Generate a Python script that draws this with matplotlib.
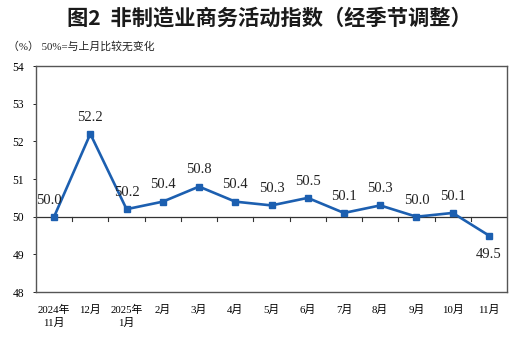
import matplotlib
matplotlib.use("Agg")
import matplotlib.pyplot as plt

plt.rcParams['font.family'] = ['Liberation Serif', 'Noto Sans CJK SC']

months = ['2024年\n11月', '12月', '2025年\n1月', '2月', '3月', '4月', '5月',
          '6月', '7月', '8月', '9月', '10月', '11月']
values = [50.0, 52.2, 50.2, 50.4, 50.8, 50.4, 50.3, 50.5, 50.1, 50.3, 50.0, 50.1, 49.5]
y_ticks = [48, 49, 50, 51, 52, 53, 54]

line_color = '#1c5fb0'

fig = plt.figure(figsize=(5.26, 3.39), dpi=100)
ax = fig.add_axes([0.0684, 0.1386, 0.8956, 0.6664])

x = list(range(len(values)))
ax.plot(x, values, color=line_color, lw=1.9, marker='s', markersize=4.5, zorder=3)

# reference line at 50 with ticks between months
ax.axhline(50, color='#333333', lw=0.9, zorder=2)
for b in range(len(values) - 1):
    ax.plot([b + 0.5, b + 0.5], [50, 49.88], color='#333333', lw=0.8, zorder=2)

# data labels
for i, v in enumerate(values):
    if i == 0:
        off = (-4, 12)
    elif v < 50:
        off = (0, -14)
    else:
        off = (0, 12)
    ax.annotate(f'{v:.1f}', (i, v), xytext=off, textcoords='offset points',
                ha='center', va='center', fontsize=10.5, color='#222222')

ax.set_xlim(-0.5, len(values) - 0.5)
ax.set_ylim(48, 54)
ax.set_yticks(y_ticks)
ax.set_yticklabels([str(t) for t in y_ticks], fontsize=8.3)
ax.set_xticks(x)
ax.set_xticklabels(months, fontsize=7.8, linespacing=1.4, va='top')
ax.tick_params(axis='x', length=0, pad=9)
ax.tick_params(axis='y', length=2.5, width=0.6, pad=6, direction='out')
for s in ax.spines.values():
    s.set_color('#555555')
    s.set_linewidth(1.0)

fig.text(0.513, 0.948, '图2  非制造业商务活动指数（经季节调整）', ha='center', va='center',
         fontsize=15.3, fontweight='bold', family=['Noto Sans CJK SC'], color='#1a1a1a')
fig.text(0.015, 0.862, '（%） 50%=与上月比较无变化', ha='left', va='center',
         fontsize=7.8, color='#222222')

fig.savefig('out.png', dpi=100)
